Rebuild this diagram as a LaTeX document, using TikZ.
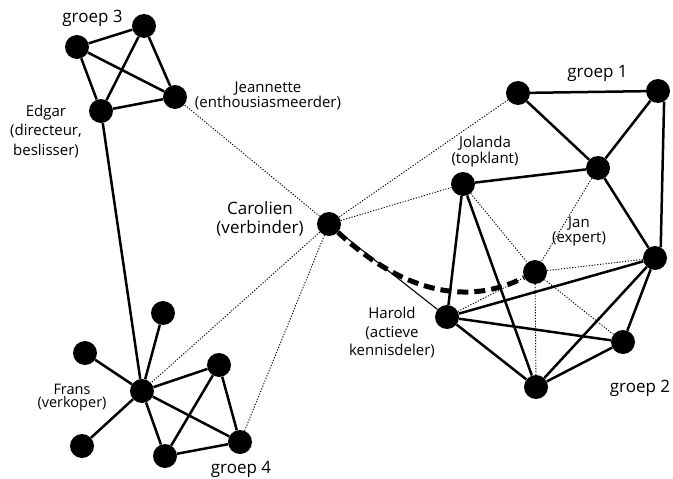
\documentclass[tikz,border=0pt]{standalone}
\usepackage{fontspec}
\setmainfont{Open Sans}
\begin{document}
\begin{tikzpicture}[x=1pt,y=-1pt,
  dot/.style={circle,fill=black,minimum size=24pt,inner sep=0pt},
  tie/.style={line width=2.5pt},
  weak/.style={line width=0.9pt,dash pattern=on 1.2pt off 1.6pt},
  thintie/.style={line width=1.1pt},
  bridge/.style={line width=5pt,dash pattern=on 11pt off 6pt},
  lbl/.style={align=center,inner sep=0pt},
  grp/.style={font=\fontsize{17}{20}\selectfont,anchor=base,inner sep=0pt}]
\useasboundingbox (0,0) rectangle (673,479);

% nodes
\node[dot] (G3a) at (77,47) {};
\node[dot] (G3b) at (144,26) {};
\node[dot] (Jea) at (175,97) {};
\node[dot] (Edg) at (101,111) {};
\node[dot] (Car) at (329,224) {};
\node[dot] (Fra) at (142,391) {};
\node[dot] (F1) at (163,313) {};
\node[dot] (F2) at (85,353) {};
\node[dot] (F3) at (82,446) {};
\node[dot] (G4a) at (219,365) {};
\node[dot] (G4b) at (165,456) {};
\node[dot] (G4c) at (240,442) {};
\node[dot] (G1a) at (518,93) {};
\node[dot] (G1b) at (658,91) {};
\node[dot] (G1c) at (598,168) {};
\node[dot] (Jol) at (463,184) {};
\node[dot] (G2a) at (655,258) {};
\node[dot] (Jan) at (535,272) {};
\node[dot] (Har) at (447,317) {};
\node[dot] (G2b) at (623,342) {};
\node[dot] (G2c) at (536,387) {};

% group 3
\draw[tie] (G3a) -- (G3b);
\draw[tie] (G3a) -- (Jea);
\draw[tie] (G3a) -- (Edg);
\draw[tie] (G3b) -- (Edg);
\draw[tie] (G3b) -- (Jea);
\draw[tie] (Edg) -- (Jea);
\draw[tie] (Edg) -- (Fra);

% group 4
\draw[tie] (Fra) -- (F1);
\draw[tie] (Fra) -- (F2);
\draw[tie] (Fra) -- (F3);
\draw[tie] (Fra) -- (G4a);
\draw[tie] (Fra) -- (G4b);
\draw[tie] (Fra) -- (G4c);
\draw[tie] (G4a) -- (G4b);
\draw[tie] (G4a) -- (G4c);
\draw[tie] (G4b) -- (G4c);

% group 1
\draw[tie] (G1a) -- (G1b);
\draw[tie] (G1a) -- (G1c);
\draw[tie] (G1b) -- (G1c);
\draw[tie] (Jol) -- (G1c);
\draw[tie] (G1c) -- (G2a);
\draw[tie] (G1b.-60) -- (G2a.62);

% group 2
\draw[tie] (Jol) -- (Har);
\draw[tie] (Jol) -- (G2c);
\draw[tie] (Har) -- (G2a);
\draw[tie] (Har) -- (G2b);
\draw[tie] (Har) -- (G2c);
\draw[tie] (G2a) -- (G2b);
\draw[tie] (G2a) -- (G2c);
\draw[tie] (G2b) -- (G2c);

% weak ties
\draw[weak] (Car) -- (Jea);
\draw[weak] (Car) -- (Fra);
\draw[weak] (Car) -- (G4c);
\draw[weak] (Car) -- (G1a);
\draw[weak] (Car) -- (Jol);
\draw[weak] (Jol) -- (Jan);
\draw[weak] (G1c) -- (Jan);
\draw[weak] (Har) -- (Jan);
\draw[weak] (Jan) -- (G2a);
\draw[weak] (Jan) -- (G2b);
\draw[weak] (Jan) -- (G2c);
\draw[thintie] (Car) -- (Har);
\draw[bridge] (Car) .. controls (395,285) and (460,310) .. (Jan);

% labels
\node[grp] (t3) at (92.5,23) {groep 3};
\node[grp] (t1) at (597.5,77) {groep 1};
\node[grp] (t2) at (640,392) {groep 2};
\node[grp] (t4) at (241,473) {groep 4};
\node[lbl,font=\fontsize{15}{15}\selectfont] (lJea) at (268,95.6) {Jeannette\\(enthousiasmeerder)};
\node[lbl,font=\fontsize{15}{19.5}\selectfont] (lEdg) at (46,131) {Edgar\\(directeur,\\beslisser)};
\node[lbl,font=\fontsize{17}{19}\selectfont] (lCar) at (260,219) {Carolien\\(verbinder)};
\node[lbl,font=\fontsize{15}{16}\selectfont] (lJol) at (485,152) {Jolanda\\(topklant)};
\node[lbl,font=\fontsize{15}{15}\selectfont] (lJan) at (579,231.6) {Jan\\(expert)};
\node[lbl,font=\fontsize{15}{18.5}\selectfont] (lHar) at (392,332.6) {Harold\\(actieve\\kennisdeler)};
\node[lbl,font=\fontsize{14.5}{13.5}\selectfont] (lFra) at (72,397.6) {Frans\\(verkoper)};
\end{tikzpicture}
\end{document}
